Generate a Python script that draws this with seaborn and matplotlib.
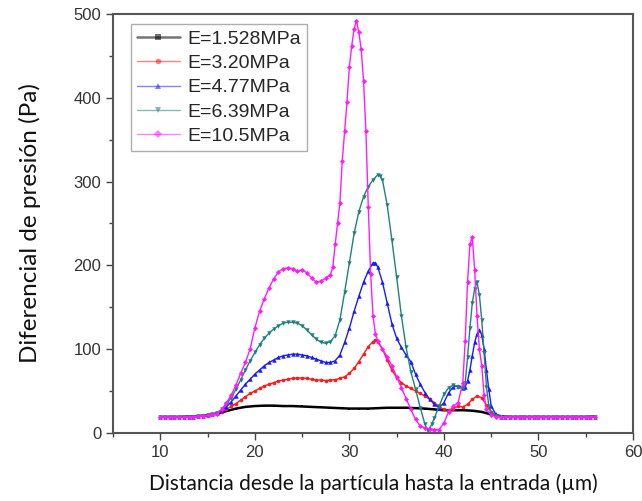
import matplotlib
matplotlib.use("Agg")
import matplotlib.pyplot as plt
from matplotlib.ticker import MultipleLocator
import seaborn as sns
import pandas as pd

labels = ["E=1.528MPa", "E=3.20MPa", "E=4.77MPa", "E=6.39MPa", "E=10.5MPa"]
colors = ["#000000", "#ff1a1a", "#1a1aff", "#1f8080", "#ff1aff"]
markers = ["s", "o", "^", "v", "D"]

pts_black = [(10,19),(11,19),(12,19),(13,19.5),(14,20),(15,21),(16,23),(17,26),(18,29),(19,31),
             (20,32),(21,32.5),(22,32.5),(23,32),(24,32),(25,31.5),(26,31),(27,30.5),(28,30),(29,29.5),
             (30,29),(31,29),(32,29),(33,29.5),(34,30),(35,30),(36,30),(37,29.5),(38,29),(39,28),
             (40,27),(41,27),(42,27),(43,26.5),(44,25),(45,22),(46,20),(47,19),(48,19),(49,19),
             (50,19),(51,19),(52,19),(53,19),(54,19),(55,19),(56,19.5)]

pts_red = [(10,19),(10.5,19),(11,19),(11.5,19),(12,19),(12.5,19),(13,19.5),(13.5,19.5),(14,20),(14.5,20.5),
           (15,21),(15.5,22),(16,23.5),(16.5,25.5),(17,28),(17.5,31.5),(18,35),(18.5,39),(19,43),(19.5,47),
           (20,50),(20.5,53),(21,56),(21.5,58),(22,60),(22.5,62),(23,63),(23.5,64),(24,65),(24.5,65.5),
           (25,65.5),(25.5,65),(26,64),(26.5,63),(27,63),(27.5,62.5),(28,63),(28.5,63.5),(29,65),(29.5,67),
           (30,71),(30.5,77),(31,85),(31.5,94),(32,103),(32.5,109),(32.75,111),(33,109),(33.5,100),(34,87),
           (34.5,75),(35,66),(35.5,60),(36,56),(36.5,53),(37,50),(37.5,47),(38,44),(38.5,40),(39,36),
           (39.5,31),(40,28),(40.5,27),(41,29),(41.5,32),(42,31),(42.5,34),(43,40),(43.5,44),(44,42),
           (44.5,33),(45,25),(45.5,21),(46,19.5),(46.5,19),(47,19),(47.5,19),(48,19),(48.5,19),(49,19),
           (49.5,19),(50,19),(50.5,19),(51,19),(51.5,19),(52,19),(52.5,19),(53,19),(53.5,19),(54,19),
           (54.5,19),(55,19),(55.5,19),(56,19.5)]

pts_blue = [(10,19),(10.5,19),(11,19),(11.5,19),(12,19),(12.5,19),(13,19.5),(13.5,19.5),(14,20),(14.5,20.5),
            (15,21),(15.5,22),(16,24),(16.5,27),(17,31),(17.5,37),(18,44),(18.5,51),(19,58),(19.5,64),
            (20,70),(20.5,75),(21,80),(21.5,84),(22,87),(22.5,90),(23,92),(23.5,93),(24,94),(24.5,94),
            (25,93),(25.5,92),(26,90),(26.5,88),(27,86),(27.5,84),(28,84),(28.5,86),(29,93),(29.5,108),
            (30,125),(30.5,145),(31,163),(31.5,180),(32,193),(32.5,203),(32.75,203),(33,198),(33.5,180),(34,155),
            (34.5,130),(35,113),(35.5,102),(36,93),(36.5,85),(37,70),(37.5,58),(38,48),(38.5,40),(39,34),
            (39.5,30),(40,36),(40.5,48),(41,55),(41.5,56),(42,54),(42.25,55),(42.5,62),(42.75,75),(43,92),
            (43.25,108),(43.5,118),(43.75,123),(44,117),(44.25,100),(44.5,75),(44.75,52),(45,32),(45.5,22),(46,19.5),
            (46.5,19),(47,19),(47.5,19),(48,19),(48.5,19),(49,19),(49.5,19),(50,19),(50.5,19),(51,19),
            (51.5,19),(52,19),(52.5,19),(53,19),(53.5,19),(54,19),(54.5,19),(55,19),(55.5,19),(56,19.5)]

pts_teal = [(10,19),(10.5,19),(11,19),(11.5,19),(12,19),(12.5,19),(13,19.5),(13.5,19.5),(14,20),(14.5,20.5),
            (15,21),(15.5,22),(16,24),(16.5,28),(17,34),(17.5,42),(18,52),(18.5,63),(19,75),(19.5,86),
            (20,96),(20.5,105),(21,113),(21.5,119),(22,124),(22.5,128),(23,131),(23.5,132),(24,132),(24.5,131),
            (25,128),(25.5,123),(26,117),(26.5,112),(27,108),(27.5,107),(28,109),(28.5,116),(29,135),(29.5,168),
            (30,203),(30.5,238),(31,264),(31.5,282),(32,294),(32.5,302),(33,308),(33.25,307),(33.5,302),(34,272),
            (34.5,230),(35,186),(35.5,140),(36,102),(36.5,73),(37,52),(37.5,30),(38,10),(38.3,2),(38.7,10),
            (39,18),(39.5,32),(40,46),(40.5,54),(41,57),(41.5,55),(42,53),(42.25,60),(42.5,90),(42.75,125),
            (43,155),(43.25,172),(43.5,180),(43.75,165),(44,135),(44.25,95),(44.5,55),(44.75,32),(45,24),(45.5,20.5),
            (46,19.5),(46.5,19),(47,19),(47.5,19),(48,19),(48.5,19),(49,19),(49.5,19),(50,19),(50.5,19),
            (51,19),(51.5,19),(52,19),(52.5,19),(53,19),(53.5,19),(54,19),(54.5,19),(55,19),(55.5,19),(56,19.5)]

pts_magenta = [(10,19),(10.5,19),(11,19),(11.5,19),(12,19),(12.5,19),(13,19.5),(13.5,19.5),(14,20),(14.5,20.5),
               (15,21),(15.5,22),(16,23),(16.5,28),(17,36),(17.5,45),(18,57),(18.5,71),(19,84),(19.5,100),
               (20,125),(20.5,145),(21,160),(21.5,173),(22,184),(22.5,192),(23,196),(23.5,197),(24,196),(24.5,193),
               (25,195),(25.5,191),(26,185),(26.5,180),(27,181),(27.5,185),(28,189),(28.25,198),(28.5,225),(28.75,250),
               (29,275),(29.25,325),(29.5,360),(29.75,395),(30,437),(30.25,462),(30.5,482),(30.75,492),(31,478),(31.25,458),
               (31.5,420),(31.75,360),(32,270),(32.25,190),(32.5,140),(32.75,118),(33,110),(33.5,100),(34,91),(34.5,80),
               (35,67),(35.5,54),(36,41),(36.5,28),(37,16),(37.5,8),(38,6),(38.5,5),(39,4),(39.5,4),
               (40,12),(40.5,25),(41,32),(41.5,36),(42,60),(42.25,110),(42.5,180),(42.75,225),(43,234),(43.25,195),
               (43.5,140),(43.75,100),(44,80),(44.25,45),(44.5,28),(45,21),(45.5,19.5),(46,19),(46.5,19),(47,19),
               (47.5,19),(48,19),(48.5,19),(49,19),(49.5,19),(50,19),(50.5,19),(51,19),(51.5,19),(52,19),
               (52.5,19),(53,19),(53.5,19),(54,19),(54.5,19),(55,19),(55.5,19),(56,19.5)]

series_pts = [pts_black, pts_red, pts_blue, pts_teal, pts_magenta]
line_widths = [1.8, 1.0, 1.0, 1.0, 1.0]
marker_sizes = [2.0, 2.6, 3.2, 3.2, 2.6]

sns.set_theme(style="white")
plt.rcParams["font.family"] = ["Liberation Sans", "DejaVu Sans"]

fig = plt.figure(figsize=(6.42, 5.01), dpi=100)
ax = fig.add_axes([0.176, 0.136, 0.81, 0.836])

for pts, lab, col, mk, lw, ms in zip(series_pts, labels, colors, markers, line_widths, marker_sizes):
    df = pd.DataFrame(pts, columns=["x", "y"])
    sns.lineplot(data=df, x="x", y="y", ax=ax, color=col, marker=mk, markersize=ms,
                 markeredgewidth=0, linewidth=lw, label=lab, sort=False)

ax.set_xlim(5, 60)
ax.set_ylim(0, 500)
ax.xaxis.set_major_locator(MultipleLocator(10))
ax.xaxis.set_minor_locator(MultipleLocator(5))
ax.yaxis.set_major_locator(MultipleLocator(100))
ax.yaxis.set_minor_locator(MultipleLocator(50))
ax.tick_params(which="both", direction="out", color="#444444", width=1.0,
               bottom=True, left=True, top=False, right=False, labelsize=12, labelcolor="#333333")
ax.tick_params(which="major", length=5)
ax.tick_params(which="minor", length=3)
ax.xaxis.set_major_formatter(matplotlib.ticker.FuncFormatter(lambda v, p: f"{int(v)}"))
for s in ax.spines.values():
    s.set_color("#555555")
    s.set_linewidth(1.5)

ax.set_xlabel("Distancia desde la partícula hasta la entrada (µm)", fontsize=15,
              family=["Lato", "DejaVu Sans"], labelpad=10, color="#111111")
ax.set_ylabel("Diferencial de presión (Pa)", fontsize=17.5,
              family=["Lato", "DejaVu Sans"], labelpad=23, color="#111111")

leg = ax.legend(loc="upper left", bbox_to_anchor=(0.035, 0.975), fontsize=14, frameon=True,
                fancybox=False, edgecolor="#999999", handlelength=2.2, handletextpad=0.4,
                labelspacing=0.34, borderpad=0.3, borderaxespad=0)
leg.get_frame().set_linewidth(1.0)
for h in leg.get_lines():
    h.set_alpha(0.55)
    h.set_markersize(4)

fig.savefig("out.png", dpi=100)
